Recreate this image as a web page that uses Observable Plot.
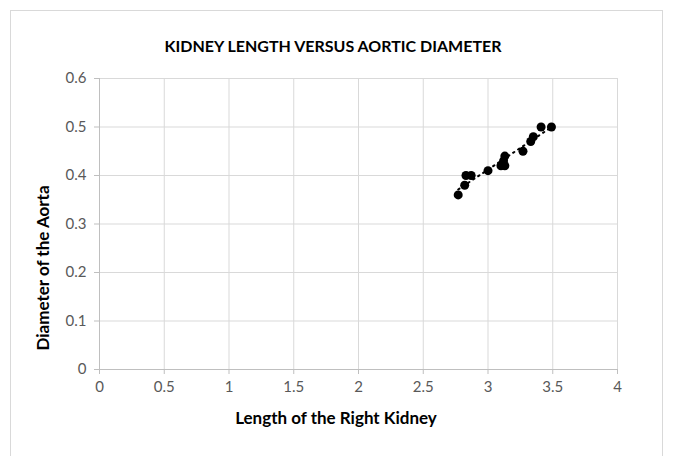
<!DOCTYPE html>
<html>
<head>
<meta charset="utf-8">
<script src="https://cdn.jsdelivr.net/npm/d3@7"></script>
<script src="https://cdn.jsdelivr.net/npm/@observablehq/plot@0.6"></script>
<style>
  body { margin: 0; background: #fff; }
  #wrap { position: relative; width: 673px; height: 456px; overflow: hidden; font-family: Lato, "Open Sans", sans-serif; }
  #frame { position: absolute; left: 10px; top: 10px; width: 653px; height: 460px; border: 1px solid #d9d9d9; box-sizing: border-box; }
  #chart { position: absolute; left: 0; top: 0; }
  .lbl { position: absolute; font-weight: bold; color: #000; white-space: nowrap; line-height: 20px; }
  #title { left: 0; width: 666px; text-align: center; top: 36px; font-size: 16px; }
  #xlabel { left: 0; width: 672px; text-align: center; top: 408px; font-size: 17px; }
  #ylabel { left: 43px; top: 268px; font-size: 17px; transform: translate(-50%, -50%) rotate(-90deg); }
  #chart text { font-family: Lato, "Open Sans", sans-serif; }
</style>
</head>
<body>
<div id="wrap">
  <div id="frame"></div>
  <div id="chart"></div>
  <div id="title" class="lbl">KIDNEY LENGTH VERSUS AORTIC DIAMETER</div>
  <div id="xlabel" class="lbl">Length of the Right Kidney</div>
  <div id="ylabel" class="lbl">Diameter of the Aorta</div>
</div>
<script>
const kidneyLength = [2.77, 2.82, 2.83, 2.87, 3.00, 3.10, 3.13, 3.12, 3.13, 3.27, 3.33, 3.35, 3.41, 3.49];
const aorticDiameter = [0.36, 0.38, 0.40, 0.40, 0.41, 0.42, 0.42, 0.43, 0.44, 0.45, 0.47, 0.48, 0.50, 0.50];
const xTicks = [0, 0.5, 1, 1.5, 2, 2.5, 3, 3.5, 4];
const yTicks = [0, 0.1, 0.2, 0.3, 0.4, 0.5, 0.6];

const data = kidneyLength.map((x, i) => ({x, y: aorticDiameter[i]}));

const chart = Plot.plot({
  width: 673,
  height: 456,
  marginLeft: 99,
  marginRight: 56,
  marginTop: 78,
  marginBottom: 87,
  style: {fontSize: "15px", background: "transparent"},
  x: {domain: [0, 4]},
  y: {domain: [0, 0.6]},
  marks: [
    Plot.gridX(xTicks, {stroke: "#d9d9d9", strokeOpacity: 1}),
    Plot.gridY(yTicks, {stroke: "#d9d9d9", strokeOpacity: 1}),
    Plot.ruleY([0], {stroke: "#bfbfbf"}),
    Plot.ruleX([0], {stroke: "#bfbfbf"}),
    Plot.axisX(xTicks, {tickSize: 5, tickPadding: 7, fontSize: 15, stroke: "#bfbfbf", fill: "#595959", label: null, tickFormat: d => String(d)}),
    Plot.axisY(yTicks, {tickSize: 5, tickPadding: 8, fontSize: 15, stroke: "#bfbfbf", fill: "#595959", label: null, tickFormat: d => String(d)}),
    Plot.linearRegressionY(data, {x: "x", y: "y", ci: 0, stroke: "#000", strokeWidth: 2, strokeDasharray: "1.5,4.5", strokeLinecap: "round"}),
    Plot.dot(data, {x: "x", y: "y", r: 4.5, fill: "#000"})
  ]
});
document.getElementById("chart").appendChild(chart);
</script>
</body>
</html>
